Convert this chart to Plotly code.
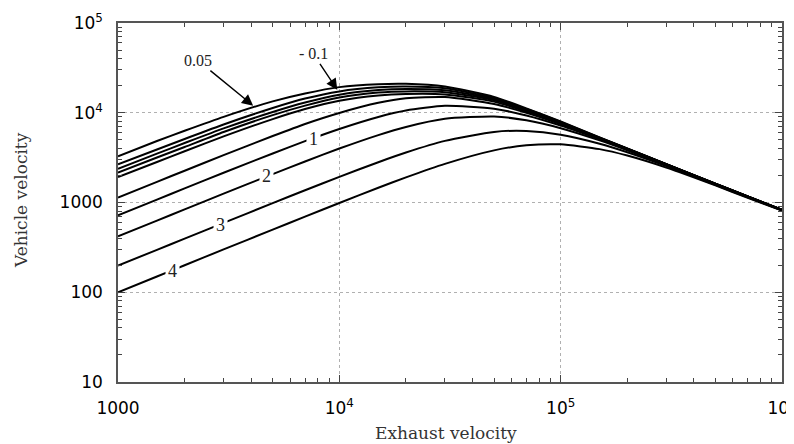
import math
import plotly.graph_objects as go

# Exhaust velocity sample points (read positions along the x axis)
exhaust_velocity = [1e3, 1.5e3, 2e3, 3e3, 5e3, 7e3, 1e4, 1.5e4, 2e4, 3e4, 5e4, 7e4,
                    1e5, 1.5e5, 2e5, 3e5, 5e5, 7e5, 1e6]

# Vehicle velocity for each curve
curve_005 = [3280, 4850, 6300, 9000, 13400, 16400, 19300, 20800, 21000, 19600, 15000, 11200,
             8000, 5300, 4000, 2680, 1620, 1170, 830]
curve_01 = [2660, 3900, 5100, 7400, 11300, 14400, 17300, 19200, 19600, 18700, 14600, 11000,
            7900, 5280, 3990, 2680, 1620, 1170, 830]
curve_c = [2380, 3500, 4600, 6700, 10200, 13000, 15900, 17900, 18400, 17800, 14200, 10800,
           7800, 5250, 3980, 2670, 1620, 1170, 830]
curve_d = [2150, 3170, 4150, 6100, 9400, 12000, 14800, 16800, 17300, 16900, 13800, 10600,
           7700, 5220, 3960, 2670, 1620, 1170, 830]
curve_e = [1920, 2830, 3720, 5450, 8500, 11000, 13600, 15600, 16200, 16000, 13300, 10300,
           7600, 5180, 3940, 2660, 1615, 1168, 828]
curve_f = [1135, 1700, 2260, 3370, 5500, 7500, 9950, 12900, 14500, 14950, 12500, 10000,
           7470, 5170, 3930, 2650, 1605, 1160, 825]
curve_1 = [720, 1078, 1435, 2143, 3520, 4830, 6600, 8980, 10590, 11930, 11080, 9320,
           7200, 5080, 3890, 2640, 1600, 1155, 822]
curve_2 = [420, 629, 838, 1254, 2073, 2867, 3990, 5635, 6944, 8556, 9081, 8230,
           6720, 4920, 3818, 2611, 1590, 1150, 820]
curve_3 = [198, 297, 396, 592, 984, 1369, 1932, 2813, 3604, 4857, 6116, 6264,
           5698, 4521, 3633, 2552, 1575, 1140, 818]
curve_4 = [100, 150, 200, 300, 498, 696, 988, 1459, 1905, 2697, 3810, 4341,
           4444, 3934, 3333, 2449, 1550, 1125, 815]

curves = [("0.05", curve_005), ("0.1", curve_01), ("curve 3", curve_c), ("curve 4", curve_d),
          ("curve 5", curve_e), ("curve 6", curve_f), ("1", curve_1), ("2", curve_2),
          ("3", curve_3), ("4", curve_4)]

x_tick_vals = [1e3, 1e4, 1e5, 1e6]
x_tick_text = ["1000", "10<sup>4</sup>", "10<sup>5</sup>", "10<sup>6</sup>"]
y_tick_vals = [10, 100, 1000, 1e4, 1e5]
y_tick_text = ["10", "100", "1000", "10<sup>4</sup>", "10<sup>5</sup>"]

fig = go.Figure()
for name, vals in curves:
    fig.add_trace(go.Scatter(x=exhaust_velocity, y=vals, mode="lines", name=name,
                             line=dict(color="black", width=2, shape="spline", smoothing=0.6),
                             showlegend=False, hoverinfo="x+y+name"))

serif = "Liberation Serif"
title_font = "DejaVu Serif"
sans = "DejaVu Sans"

# inline curve labels (white boxes break the lines)
inline_labels = [("1", 7620, 5150), ("2", 4680, 1955), ("3", 2894, 560), ("4", 1755, 174)]
for txt, cx, cy in inline_labels:
    fig.add_annotation(x=math.log10(cx), y=math.log10(cy), text=txt, showarrow=False,
                       font=dict(family=serif, size=18, color="#222"),
                       bgcolor="white", borderpad=2)

# arrow labels
fig.add_annotation(x=math.log10(4080), y=math.log10(12000), text="0.05", showarrow=True,
                   ax=-55, ay=-45, arrowhead=2, arrowsize=1.6, arrowwidth=1.4,
                   arrowcolor="black", font=dict(family=serif, size=16, color="#222"))
fig.add_annotation(x=math.log10(9790), y=math.log10(18000), text="- 0.1", showarrow=True,
                   ax=-24, ay=-36, arrowhead=2, arrowsize=1.6, arrowwidth=1.4,
                   arrowcolor="black", font=dict(family=serif, size=16, color="#222"))

# axis titles
fig.add_annotation(xref="paper", yref="paper", x=0.494, y=-0.142, text="Exhaust velocity",
                   xanchor="center", yanchor="middle", showarrow=False,
                   font=dict(family=title_font, size=17, color="#333"))
fig.add_annotation(xref="paper", yref="paper", x=-0.146, y=0.507, text="Vehicle velocity",
                   xanchor="center", yanchor="middle", showarrow=False, textangle=-90,
                   font=dict(family=title_font, size=17, color="#333"))

minor_x = [m * 10 ** e for e in (3, 4, 5) for m in range(2, 10)]
minor_y = [m * 10 ** e for e in (1, 2, 3, 4) for m in range(2, 10)]

axis_common = dict(type="log", tickmode="array", ticks="inside", ticklen=7, tickwidth=1,
                   tickcolor="#444", mirror="ticks", showline=True, linecolor="#555",
                   linewidth=1.5, showgrid=True, gridcolor="#b0b0b0", griddash="dot",
                   gridwidth=1, tickfont=dict(family=sans, size=17, color="black"),
                   zeroline=False, automargin=False, ticklabeloverflow="allow")

fig.update_xaxes(range=[3, 6], tickvals=x_tick_vals, ticktext=x_tick_text,
                 ticklabelstandoff=10,
                 minor=dict(tickmode="array", tickvals=minor_x, ticks="inside", ticklen=4,
                            tickcolor="#444", showgrid=False),
                 **axis_common)
fig.update_yaxes(range=[1, 5], tickvals=y_tick_vals, ticktext=y_tick_text,
                 ticklabelstandoff=10,
                 minor=dict(tickmode="array", tickvals=minor_y, ticks="inside", ticklen=4,
                            tickcolor="#444", showgrid=False),
                 **axis_common)

# the page body adds an 8 px offset, so the figure is sized to compensate
fig.update_layout(width=786, height=436, margin=dict(l=110, r=12, t=15, b=62),
                  paper_bgcolor="white", plot_bgcolor="white")

fig.write_html("out.html")
